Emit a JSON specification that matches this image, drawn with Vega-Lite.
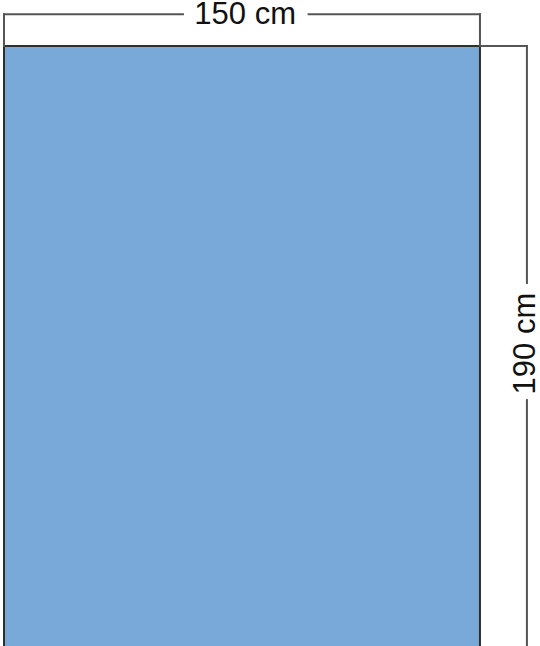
{
  "$schema": "https://vega.github.io/schema/vega-lite/v6.json",
  "width": 540,
  "height": 646,
  "autosize": {"type": "none"},
  "padding": 0,
  "background": "white",
  "config": {"view": {"stroke": null}},
  "datasets": {
    "sheet": [{"name": "sheet", "x0": 0, "x1": 150, "y0": 0, "y1": 190}],
    "dims": [
      {"part": "top-left tick", "xa": 0, "xb": 0, "ya": -10, "yb": 0},
      {"part": "top-left line", "xa": 0, "xb": 56.4, "ya": -10, "yb": -10},
      {"part": "top-right line", "xa": 96, "xb": 150, "ya": -10, "yb": -10},
      {"part": "top-right tick", "xa": 150, "xb": 150, "ya": -10, "yb": 0},
      {"part": "right-top tick", "xa": 150, "xb": 164.8, "ya": 0, "yb": 0},
      {"part": "right-upper line", "xa": 164.8, "xb": 164.8, "ya": 0, "yb": 74.7},
      {"part": "right-lower line", "xa": 164.8, "xb": 164.8, "ya": 111.6, "yb": 190}
    ],
    "labels": [
      {"label": "150 cm", "x": 76, "y": -9.8, "angle": 0},
      {"label": "190 cm", "x": 164.6, "y": 93.8, "angle": 270}
    ]
  },
  "layer": [
    {
      "data": {"name": "sheet"},
      "mark": {"type": "rect", "fill": "#78a9d8", "stroke": "#2e2e2e", "strokeWidth": 2, "clip": true},
      "encoding": {
        "x": {"field": "x0", "type": "quantitative", "scale": {"domain": [-1.26, 168.92], "zero": false, "nice": false}, "axis": null},
        "x2": {"field": "x1"},
        "y": {"field": "y0", "type": "quantitative", "scale": {"domain": [-14.5, 189.1], "zero": false, "nice": false, "reverse": true}, "axis": null},
        "y2": {"field": "y1"}
      }
    },
    {
      "data": {"name": "dims"},
      "mark": {"type": "rule", "color": "#555555", "strokeWidth": 2, "strokeCap": "square", "clip": true},
      "encoding": {
        "x": {"field": "xa", "type": "quantitative"},
        "x2": {"field": "xb"},
        "y": {"field": "ya", "type": "quantitative"},
        "y2": {"field": "yb"}
      }
    },
    {
      "data": {"name": "labels"},
      "transform": [{"filter": "datum.angle == 0"}],
      "mark": {"type": "text", "font": "Liberation Sans", "fontSize": 31, "color": "#111111", "align": "center", "baseline": "middle"},
      "encoding": {
        "x": {"field": "x", "type": "quantitative"},
        "y": {"field": "y", "type": "quantitative"},
        "text": {"field": "label"}
      }
    },
    {
      "data": {"name": "labels"},
      "transform": [{"filter": "datum.angle == 270"}],
      "mark": {"type": "text", "font": "Liberation Sans", "fontSize": 31, "color": "#111111", "align": "center", "baseline": "middle", "angle": 270},
      "encoding": {
        "x": {"field": "x", "type": "quantitative"},
        "y": {"field": "y", "type": "quantitative"},
        "text": {"field": "label"}
      }
    }
  ]
}
